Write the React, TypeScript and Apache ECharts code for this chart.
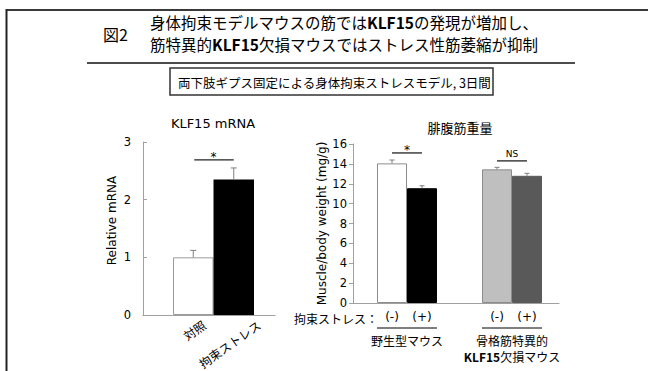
import React, { useEffect, useRef } from 'react';
import * as echarts from 'echarts';

// KLF15 mRNA (relative expression)
const mrnaGroups = ['対照', '拘束ストレス'];
const mrnaMean = [1.0, 2.35];
const mrnaErrTop = [1.12, 2.55];
const mrnaSigLevel = [2.69];
const mrnaSigText = ['*'];

// Gastrocnemius weight (mg/g body weight)
const weightGroups = ['野生型マウス', '骨格筋特異的\nKLF15欠損マウス'];
const stressLabels = ['(-)', '(+)'];
const weightMinus = [14.05, 13.45];
const weightPlus = [11.55, 12.8];
const weightMinusErrTop = [14.39, 13.65];
const weightPlusErrTop = [11.8, 13.05];
const weightSigLevel = [15.1, 14.3];
const weightSigText = ['*', 'NS'];

const minusColors = ['#ffffff', '#bfbfbf'];
const plusColors = ['#000000', '#595959'];

const LATIN = '"DejaVu Sans", sans-serif';
const JP = '"Noto Sans CJK JP", sans-serif';
const AXIS_GRAY = '#a0a0a0';
const BAR_W = 30;
const TITLE_SIZE = 15.5;

function txt(text: string, x: number, y: number, size: number, family: string, align = 'left', extra: any = {}) {
  return {
    type: 'text',
    style: {
      text, x, y, fontSize: size, fontFamily: family, fill: '#000', lineHeight: size + 1,
      textAlign: align, align, textVerticalAlign: 'middle', verticalAlign: 'middle',
      ...extra,
    },
  };
}

function errGroup(base: number[], top: number[], half: number) {
  const st = { stroke: '#7f7f7f', lineWidth: 1 };
  return {
    type: 'group',
    children: [
      { type: 'line', shape: { x1: top[0], y1: base[1], x2: top[0], y2: top[1] }, style: st },
      { type: 'line', shape: { x1: top[0] - half, y1: top[1], x2: top[0] + half, y2: top[1] }, style: st },
    ],
  };
}

function buildOption(): any {
  const hiddenY = (gridIndex: number, max: number) => ({ gridIndex, type: 'value', min: 0, max, show: false });
  const titleRich = { b: { fontWeight: 'bold', fontSize: TITLE_SIZE, lineHeight: TITLE_SIZE + 1, fontFamily: JP, fill: '#000' } };
  return {
    animation: false,
    backgroundColor: '#ffffff',
    grid: [
      { left: 143, top: 142, width: 132, height: 173 },
      { left: 173, top: 142, width: 81, height: 173 },
      { left: 176.5, top: 142, width: 110, height: 173 },
      { left: 353, top: 144, width: 206, height: 159 },
      { left: 354.5, top: 144, width: 210, height: 159 },
    ],
    xAxis: [
      {
        gridIndex: 0, type: 'value', min: 0, max: 1,
        axisLine: { show: true, lineStyle: { color: AXIS_GRAY, width: 1 } },
        axisTick: { show: false }, axisLabel: { show: false }, splitLine: { show: false },
      },
      {
        gridIndex: 1, type: 'category', data: mrnaGroups,
        axisLine: { show: false }, axisTick: { show: false }, axisLabel: { show: false },
      },
      {
        gridIndex: 2, type: 'category', data: mrnaGroups,
        axisLine: { show: false }, axisTick: { show: false },
        axisLabel: { rotate: 35, margin: 16, interval: 0, fontSize: 12, fontFamily: JP, color: '#000' },
      },
      {
        gridIndex: 3, type: 'value', min: 0, max: 1,
        axisLine: { show: true, lineStyle: { color: AXIS_GRAY, width: 1 } },
        axisTick: { show: false }, axisLabel: { show: false }, splitLine: { show: false },
      },
      {
        gridIndex: 4, type: 'category', data: weightGroups,
        axisLine: { show: false }, axisTick: { show: false },
        axisLabel: {
          margin: 29, interval: 0, fontSize: 12, lineHeight: 16, fontFamily: JP, color: '#000',
          formatter: (v: string) => v.replace('KLF15', '{b|KLF15}'),
          rich: { b: { fontWeight: 'bold', fontSize: 12, lineHeight: 16, fontFamily: JP, color: '#000' } },
        },
      },
    ],
    yAxis: [
      {
        gridIndex: 0, type: 'value', min: 0, max: 3, interval: 1,
        axisLine: { show: true, lineStyle: { color: AXIS_GRAY, width: 1 } },
        axisTick: { show: true, inside: true, length: 4, lineStyle: { color: AXIS_GRAY } },
        axisLabel: { margin: 12, fontSize: 11.5, fontFamily: LATIN, color: '#000' },
        splitLine: { show: false },
        name: 'Relative mRNA', nameLocation: 'middle', nameGap: 25,
        nameTextStyle: { fontSize: 12, fontFamily: LATIN, color: '#000', padding: [0, 0, 0, 16] },
      },
      hiddenY(1, 3),
      hiddenY(2, 3),
      {
        gridIndex: 3, type: 'value', min: 0, max: 16, interval: 2,
        axisLine: { show: true, lineStyle: { color: AXIS_GRAY, width: 1 } },
        axisTick: { show: true, inside: false, length: 4, lineStyle: { color: AXIS_GRAY } },
        axisLabel: { margin: 6, fontSize: 11.5, fontFamily: LATIN, color: '#000' },
        splitLine: { show: false },
        name: 'Muscle/body weight (mg/g)', nameLocation: 'middle', nameGap: 22,
        nameTextStyle: { fontSize: 12, fontFamily: LATIN, color: '#000' },
      },
      hiddenY(4, 16),
    ],
    series: [
      {
        type: 'bar', xAxisIndex: 1, yAxisIndex: 1, barCategoryGap: 0,
        data: mrnaMean.map((v, i) => ({
          value: v,
          itemStyle: i === 0
            ? { color: '#ffffff', borderColor: '#9a9a9a', borderWidth: 1 }
            : { color: '#000000' },
        })),
      },
      {
        type: 'custom', xAxisIndex: 1, yAxisIndex: 1, z: 5,
        data: mrnaMean.map((v, i) => [i, v, mrnaErrTop[i]]),
        renderItem: (_p: any, api: any) => {
          const base = api.coord([api.value(0), api.value(1)]);
          const top = api.coord([api.value(0), api.value(2)]);
          return errGroup(base, top, 3);
        },
      },
      {
        type: 'custom', xAxisIndex: 1, yAxisIndex: 1, z: 5,
        data: mrnaSigLevel.map((y) => [0, 1, y]),
        renderItem: (p: any, api: any) => {
          const a = api.coord([api.value(0), api.value(2)]);
          const b = api.coord([api.value(1), api.value(2)]);
          return {
            type: 'group',
            children: [
              { type: 'line', shape: { x1: a[0] + 1, y1: a[1], x2: b[0], y2: b[1] }, style: { stroke: '#222', lineWidth: 1.3 } },
              txt(mrnaSigText[p.dataIndex], (a[0] + b[0]) / 2, a[1] - 3, 12, LATIN, 'center'),
            ],
          };
        },
      },
      {
        type: 'bar', name: stressLabels[0], xAxisIndex: 4, yAxisIndex: 4, barWidth: BAR_W, barGap: '0%',
        data: weightMinus.map((v, i) => ({
          value: v,
          itemStyle: { color: minusColors[i], borderColor: '#8c8c8c', borderWidth: 1 },
        })),
        label: {
          show: true, position: 'bottom', distance: 8, formatter: '{a}',
          fontSize: 12, fontFamily: LATIN, color: '#000',
        },
      },
      {
        type: 'bar', name: stressLabels[1], xAxisIndex: 4, yAxisIndex: 4, barWidth: BAR_W, barGap: '0%',
        data: weightPlus.map((v, i) => ({
          value: v,
          itemStyle: { color: plusColors[i], borderColor: plusColors[i], borderWidth: 1 },
        })),
        label: {
          show: true, position: 'bottom', distance: 8, formatter: '{a}',
          fontSize: 12, fontFamily: LATIN, color: '#000',
        },
      },
      {
        type: 'custom', xAxisIndex: 4, yAxisIndex: 4, z: 5,
        data: [
          ...weightMinus.map((v, i) => [i, -1, v, weightMinusErrTop[i]]),
          ...weightPlus.map((v, i) => [i, 1, v, weightPlusErrTop[i]]),
        ],
        renderItem: (_p: any, api: any) => {
          const shift = (api.value(1) * BAR_W) / 2;
          const base = api.coord([api.value(0), api.value(2)]);
          const top = api.coord([api.value(0), api.value(3)]);
          return errGroup([base[0] + shift, base[1]], [top[0] + shift, top[1]], 2.5);
        },
      },
      {
        type: 'custom', xAxisIndex: 4, yAxisIndex: 4, z: 5,
        data: weightSigLevel.map((y, i) => [i, y]),
        renderItem: (p: any, api: any) => {
          const c = api.coord([api.value(0), api.value(1)]);
          const label = weightSigText[p.dataIndex];
          return {
            type: 'group',
            children: [
              { type: 'line', shape: { x1: c[0] - BAR_W / 2, y1: c[1], x2: c[0] + BAR_W / 2, y2: c[1] }, style: { stroke: '#222', lineWidth: 1.3 } },
              label === '*'
                ? txt(label, c[0], c[1] - 3, 12, LATIN, 'center')
                : txt(label, c[0], c[1] - 7, 9, LATIN, 'center'),
            ],
          };
        },
      },
      {
        // rules under the (-)/(+) pairs of each genotype
        type: 'custom', xAxisIndex: 4, yAxisIndex: 4, z: 5,
        data: weightGroups.map((_g, i) => [i, 0]),
        renderItem: (_p: any, api: any) => {
          const c = api.coord([api.value(0), api.value(1)]);
          return {
            type: 'line',
            shape: { x1: c[0] - BAR_W, y1: c[1] + 25, x2: c[0] + BAR_W, y2: c[1] + 25 },
            style: { stroke: '#000', lineWidth: 1.2 },
          };
        },
      },
    ],
    graphic: [
      { type: 'line', shape: { x1: 6.5, y1: 10, x2: 648, y2: 10 }, style: { stroke: '#3a3a3a', lineWidth: 2 } },
      { type: 'line', shape: { x1: 6.5, y1: 9, x2: 6.5, y2: 371 }, style: { stroke: '#222', lineWidth: 2 } },
      txt('図2', 103, 34, 16, JP),
      txt('身体拘束モデルマウスの筋では{b|KLF15}の発現が増加し、', 150, 21.5, TITLE_SIZE, JP, 'left', { rich: titleRich }),
      txt('筋特異的{b|KLF15}欠損マウスではストレス性筋萎縮が抑制', 150, 44, TITLE_SIZE, JP, 'left', { rich: titleRich }),
      { type: 'line', shape: { x1: 87, y1: 63, x2: 575, y2: 63 }, style: { stroke: '#111', lineWidth: 1.5 } },
      { type: 'rect', shape: { x: 170, y: 68, width: 323, height: 27 }, style: { fill: 'none', stroke: '#333', lineWidth: 1.5 } },
      txt('両下肢ギプス固定による身体拘束ストレスモデル, 3日間', 178, 82, 12.5, JP),
      txt('KLF15 mRNA', 213, 123, 13, LATIN, 'center'),
      txt('腓腹筋重量', 460, 127, 13, JP, 'center'),
      txt('拘束ストレス：', 294, 318, 12, JP),
    ],
  };
}

export default function App() {
  const ref = useRef<HTMLDivElement>(null);
  useEffect(() => {
    const chart = echarts.init(ref.current!, null, { renderer: 'svg' });
    chart.setOption(buildOption());
    return () => chart.dispose();
  }, []);
  return (
    <div
      ref={ref}
      style={{ position: 'absolute', left: 0, top: 0, width: 648, height: 371, background: '#fff' }}
    />
  );
}
